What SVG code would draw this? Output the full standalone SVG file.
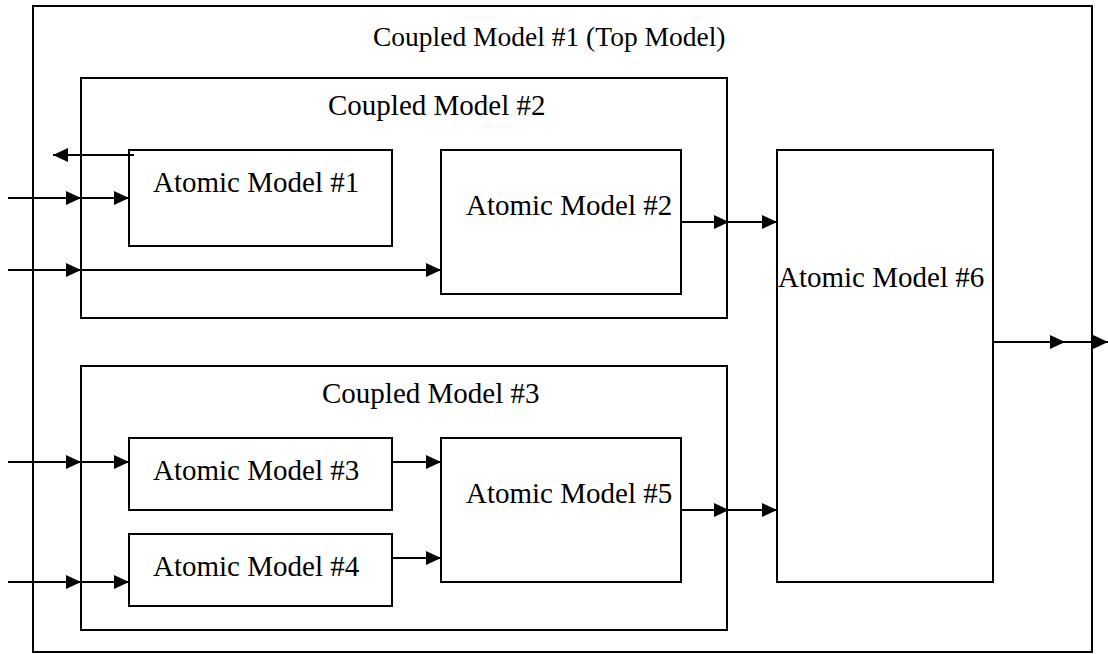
<svg xmlns="http://www.w3.org/2000/svg" width="1108" height="654" viewBox="0 0 1108 654">
<style>
.box{fill:none;stroke:#000;stroke-width:2}
.lbl{font-family:"Liberation Serif","Times New Roman",serif;font-size:29px;fill:#000}
.ttl{font-family:"Liberation Serif","Times New Roman",serif;font-size:27.5px;fill:#000}
.c{fill:none;stroke:#000;stroke-width:2}
</style>
<defs>
<marker id="ah" markerWidth="15" markerHeight="14" refX="15" refY="7" orient="auto" markerUnits="userSpaceOnUse">
<path d="M0,0 L15,7 L0,14 Z" fill="#000"/>
</marker>
</defs>
<rect width="1108" height="654" fill="#fff"/>
<g id="cm1"><rect class="box" x="33" y="6" width="1059" height="646"/><text class="ttl" x="373" y="46">Coupled Model #1 (Top Model)</text></g>
<g id="cm2"><rect class="box" x="81" y="78" width="646" height="240"/><text class="lbl" x="328" y="115">Coupled Model #2</text></g>
<g id="cm3"><rect class="box" x="81" y="366" width="646" height="264"/><text class="lbl" x="322" y="403">Coupled Model #3</text></g>
<g id="am1"><rect class="box" x="129" y="150" width="263" height="96"/><text class="lbl" x="153" y="192">Atomic Model #1</text></g>
<g id="am2"><rect class="box" x="441" y="150" width="240" height="144"/><text class="lbl" x="466" y="215">Atomic Model #2</text></g>
<g id="am3"><rect class="box" x="129" y="438" width="263" height="72"/><text class="lbl" x="153" y="480">Atomic Model #3</text></g>
<g id="am4"><rect class="box" x="129" y="534" width="263" height="72"/><text class="lbl" x="153" y="576">Atomic Model #4</text></g>
<g id="am5"><rect class="box" x="441" y="438" width="240" height="144"/><text class="lbl" x="466" y="503">Atomic Model #5</text></g>
<g id="am6"><rect class="box" x="777" y="150" width="216" height="432"/><text class="lbl" x="778" y="287">Atomic Model #6</text></g>
<g id="connectors">
<line class="c" x1="134" y1="155" x2="53" y2="155" marker-end="url(#ah)"/>
<line class="c" x1="8" y1="198" x2="81" y2="198" marker-end="url(#ah)"/>
<line class="c" x1="81" y1="198" x2="129" y2="198" marker-end="url(#ah)"/>
<line class="c" x1="8" y1="270" x2="81" y2="270" marker-end="url(#ah)"/>
<line class="c" x1="81" y1="270" x2="441" y2="270" marker-end="url(#ah)"/>
<line class="c" x1="681" y1="222" x2="729" y2="222" marker-end="url(#ah)"/>
<line class="c" x1="729" y1="222" x2="777" y2="222" marker-end="url(#ah)"/>
<line class="c" x1="993" y1="342" x2="1065" y2="342" marker-end="url(#ah)"/>
<line class="c" x1="1065" y1="342" x2="1108" y2="342" marker-end="url(#ah)"/>
<line class="c" x1="8" y1="462" x2="81" y2="462" marker-end="url(#ah)"/>
<line class="c" x1="81" y1="462" x2="129" y2="462" marker-end="url(#ah)"/>
<line class="c" x1="8" y1="582" x2="81" y2="582" marker-end="url(#ah)"/>
<line class="c" x1="81" y1="582" x2="129" y2="582" marker-end="url(#ah)"/>
<line class="c" x1="392" y1="462" x2="441" y2="462" marker-end="url(#ah)"/>
<line class="c" x1="392" y1="558" x2="441" y2="558" marker-end="url(#ah)"/>
<line class="c" x1="681" y1="510" x2="729" y2="510" marker-end="url(#ah)"/>
<line class="c" x1="729" y1="510" x2="777" y2="510" marker-end="url(#ah)"/>
</g>
</svg>
